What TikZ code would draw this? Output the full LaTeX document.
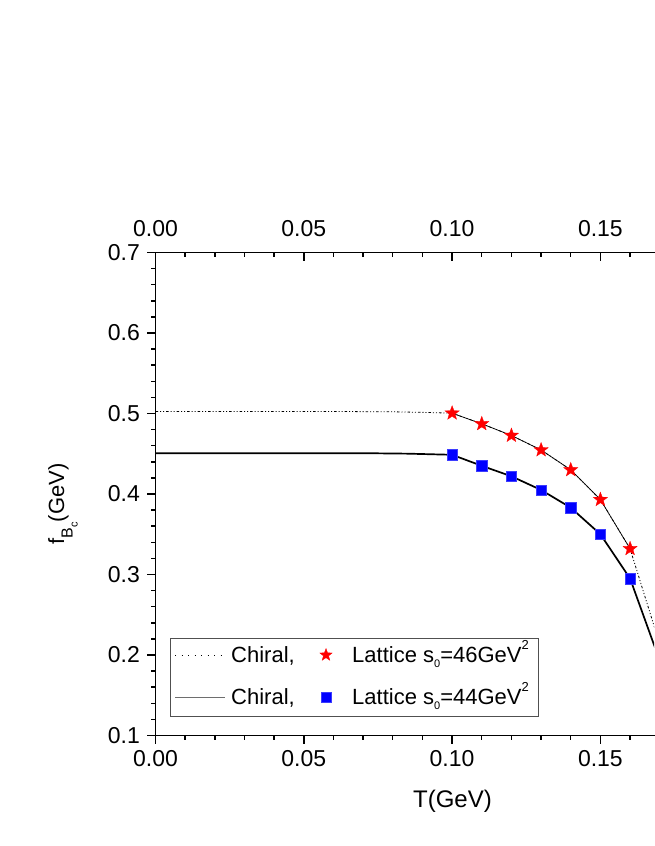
\documentclass[tikz,border=0pt]{standalone}
\usepackage{fontspec}
\setmainfont{Liberation Sans}
\usetikzlibrary{shapes.geometric}
\newcommand\lsubx[1]{\raisebox{-5pt}{\fontsize{11}{11}\selectfont #1}}
\newcommand\lsupx[1]{\raisebox{13pt}{\fontsize{13}{13}\selectfont #1}}
\begin{document}
\begin{tikzpicture}[x=1pt,y=1pt,
  axisline/.style={line width=1.8pt, line cap=rect},
  tickline/.style={line width=1.5pt},
  ticklab/.style={font=\fontsize{23}{23}\selectfont, inner sep=0pt},
  starmark/.style={star, star points=5, star point ratio=2.4, fill=red, draw=red, line width=0.3pt, minimum size=15pt, inner sep=0pt},
  sqmark/.style={rectangle, fill=blue, draw={rgb,255:red,60;green,60;blue,255}, line width=0.4pt, minimum size=10.5pt, inner sep=0pt},
  legtext/.style={font=\fontsize{22}{22}\selectfont, inner sep=0pt, anchor=base west},
  chiraldot/.style={line width=0.8pt, dash pattern=on 2.5pt off 2pt on 1pt off 2pt on 1pt off 2pt},
  latline/.style={line width=0.7pt},
  chiralsolid/.style={line width=1.7pt}
]
\useasboundingbox (0,0) rectangle (654,846);
\begin{scope}[shift={(155.5,30)}, x=2966pt, y=805pt]
  % curves
  \begin{scope}
    \clip (-0.001,0.05) rectangle (0.1681,0.75);
    \draw[chiraldot] (0,0.5025) -- (0.06,0.5025) -- (0.08,0.5021) -- (0.09,0.5014) -- (0.10,0.5004)
      -- (0.11,0.4872) -- (0.12,0.4727) -- (0.13,0.4547) -- (0.14,0.430) -- (0.15,0.393) -- (0.16,0.332) -- (0.17,0.2135);
    \draw[chiralsolid, line join=round] (0,0.4507) -- (0.07,0.4507) -- (0.085,0.4501) -- (0.10,0.4487)
      -- (0.11,0.435) -- (0.12,0.422) -- (0.13,0.405) -- (0.14,0.383) -- (0.15,0.350) -- (0.16,0.295) -- (0.17,0.193);
  \end{scope}
  % lattice points
  \foreach \t/\v [count=\k] in {0.10/0.5004,0.11/0.4872,0.12/0.4727,0.13/0.4547,0.14/0.430,0.15/0.393,0.16/0.332}
    \coordinate (sc\k) at (\t,\v);
  \draw[latline] (sc1) -- (sc2) -- (sc3) -- (sc4) -- (sc5) -- (sc6) -- (sc7);
  \foreach \k in {1,...,7} \node[starmark] (s\k) at (sc\k) {};
  \foreach \t/\v [count=\k] in {0.10/0.4487,0.11/0.435,0.12/0.422,0.13/0.405,0.14/0.383,0.15/0.350,0.16/0.295}
    \node[sqmark] (q\k) at (\t,\v) {};
  % ticks
  \foreach \i in {5,...,35} \draw[tickline] (0,\i/50) -- ++(-5pt,0);
  \foreach \i in {1,...,7} {
    \draw[tickline] (0,\i/10) -- ++(-9pt,0);
    \node[ticklab, anchor=east] (yl\i) at ([xshift=-15.5pt]0,\i/10) {0.\i};
  }
  \foreach \i in {0,...,16} {
    \draw[tickline] (\i/100,0.7) -- ++(0,-5pt);
    \draw[tickline] (\i/100,0.1) -- ++(0,-5pt);
  }
  \foreach \i/\lab in {0/0.00,5/0.05,10/0.10,15/0.15} {
    \draw[tickline] (\i/100,0.7) -- ++(0,-9pt);
    \draw[tickline] (\i/100,0.1) -- ++(0,-9pt);
    \node[ticklab, anchor=base] (xt\i) at ([yshift=16pt]\i/100,0.7) {\lab};
    \node[ticklab, anchor=base] (xb\i) at ([yshift=-31.5pt]\i/100,0.1) {\lab};
  }
  % axes
  \draw[axisline] (0.175,0.7) -- (0,0.7) -- (0,0.1) -- (0.175,0.1);
\end{scope}
% axis titles
\node[font=\fontsize{24}{24}\selectfont, anchor=base, inner sep=0pt] (xtitle) at (452.5,38) {T(GeV)};
\node[rotate=90, anchor=base, inner sep=0pt, font=\fontsize{22}{22}\selectfont] (ytitle) at (64,342) {f\raisebox{-8.5pt}{\fontsize{16}{16}\selectfont B\raisebox{-5pt}{\fontsize{11}{11}\selectfont c}}(GeV)};
% legend
\draw[line width=0.9pt, draw={rgb,255:red,80;green,80;blue,80}] (170,130) rectangle (538,208);
\coordinate (l1a) at (175,191); \coordinate (l1b) at (225,191);
\coordinate (l2a) at (175,149); \coordinate (l2b) at (225,149);
\draw[line width=0.8pt, dash pattern=on 1.2pt off 5.3pt] (l1a) -- (l1b);
\draw[line width=0.8pt, draw={rgb,255:red,110;green,110;blue,110}] (l2a) -- (l2b);
\node[legtext] (lt1) at (231,183) {Chiral,};
\node[legtext] (lt2) at (231,141) {Chiral,};
\node[starmark, minimum size=13pt] (ls) at (326,191) {};
\node[sqmark, minimum size=9.5pt] (lq) at (326,149) {};
\node[legtext] (lt3) at (352,183) {Lattice s\lsubx{0}=46GeV\lsupx{2}};
\node[legtext] (lt4) at (352,141) {Lattice s\lsubx{0}=44GeV\lsupx{2}};
\end{tikzpicture}
\end{document}
